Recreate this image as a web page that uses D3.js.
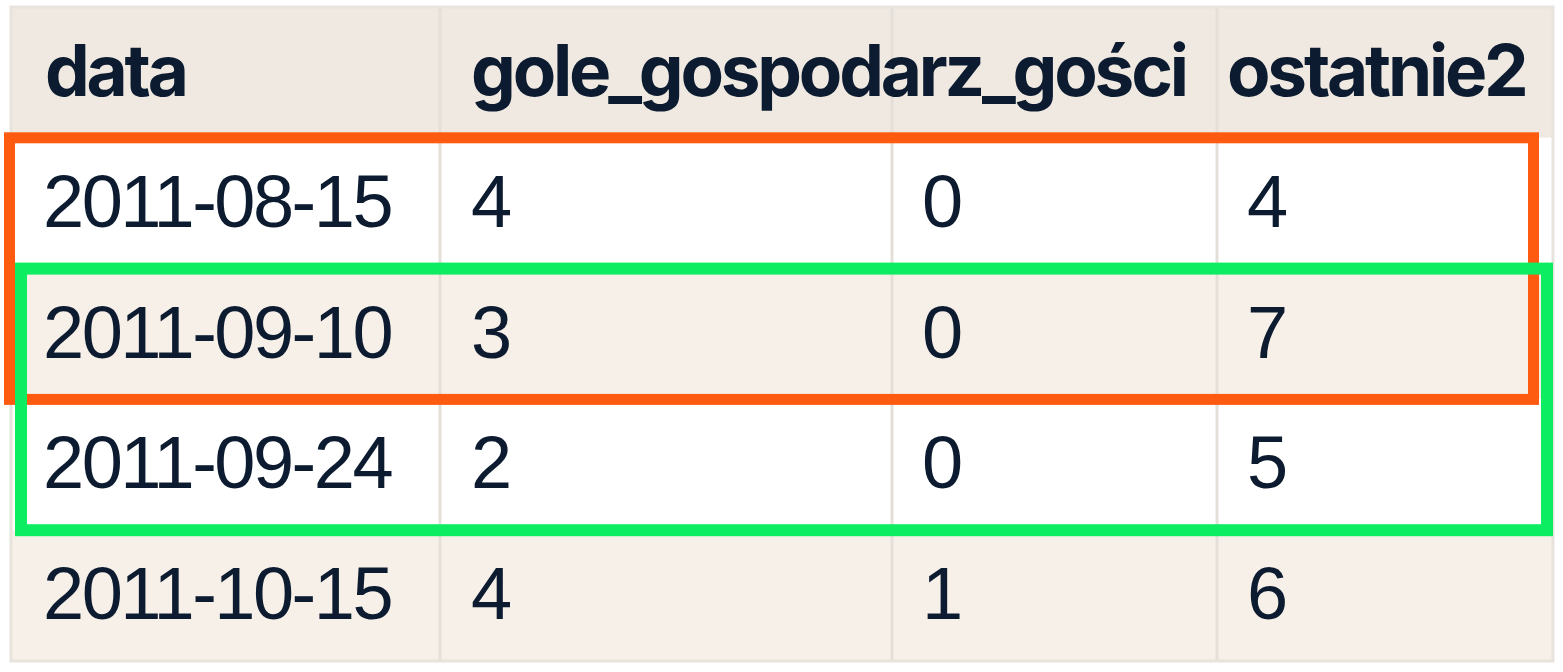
<!DOCTYPE html>
<html>
<head>
<meta charset="utf-8">
<script src="https://cdn.jsdelivr.net/npm/d3@7"></script>
<style>
  html, body { margin: 0; padding: 0; background: #ffffff; }
  svg { display: block; }
</style>
</head>
<body>
<div id="table"></div>
<script>
// table content
var headers = ["data", "gole_gospodarz_gości", "", "ostatnie2"];
var dates = ["2011-08-15", "2011-09-10", "2011-09-24", "2011-10-15"];
var homeGoals = [4, 3, 2, 4];
var awayGoals = [0, 0, 0, 1];
var lastTwo = [4, 7, 5, 6];
// highlighted windows (row indices, inclusive)
var windowStart = [0, 1];
var windowEnd = [1, 2];
var windowColors = ["#fe5a10", "#0ded62"];

var width = 1563, height = 672;
var colEdges = [11, 440, 892, 1217, 1553];
var headPad = [34, 31, 30, 10];
var textPad = [32, 31, 30, 30];
var ink = "#0c1b2f";

var rows = dates.map(function (d, i) {
    return [d, homeGoals[i], awayGoals[i], lastTwo[i]];
});

var svg = d3.select("#table").append("svg")
    .attr("width", width)
    .attr("height", height);

var y = d3.scaleBand()
    .domain(d3.range(rows.length + 1))
    .range([7, 661]);

var x = d3.scaleOrdinal()
    .domain(d3.range(4))
    .range(colEdges.slice(0, 4));

// row backgrounds
svg.append("g").selectAll("rect")
    .data(d3.range(rows.length + 1))
    .enter().append("rect")
    .attr("x", colEdges[0])
    .attr("y", function (d) { return y(d); })
    .attr("width", colEdges[4] - colEdges[0])
    .attr("height", y.bandwidth())
    .attr("fill", function (d) {
        if (d === 0) return "#efe9e2";
        return d % 2 === 1 ? "#ffffff" : "#f6f0e8";
    });

// column separators
svg.append("g").selectAll("line")
    .data(colEdges.slice(1, 4))
    .enter().append("line")
    .attr("x1", function (d) { return d; })
    .attr("x2", function (d) { return d; })
    .attr("y1", y.range()[0])
    .attr("y2", y.range()[1])
    .style("stroke", "#e4dfd8")
    .style("stroke-width", 3);

// outer frame
svg.append("rect")
    .attr("x", colEdges[0])
    .attr("y", y.range()[0])
    .attr("width", colEdges[4] - colEdges[0])
    .attr("height", y.range()[1] - y.range()[0])
    .attr("fill", "none")
    .style("stroke", "#e8e3dc")
    .style("stroke-width", 3);

// header
svg.append("g").selectAll("text")
    .data(headers)
    .enter().append("text")
    .attr("x", function (d, j) { return x(j) + headPad[j]; })
    .attr("y", y(0) + 89)
    .attr("fill", ink)
    .style("font-family", "Inter, 'Noto Sans', sans-serif")
    .style("font-weight", 700)
    .style("font-size", "71px")
    .style("letter-spacing", "-3.2px")
    .text(function (d) { return d; });

// body cells
var rowG = svg.append("g").selectAll("g")
    .data(rows)
    .enter().append("g")
    .attr("transform", function (d, i) { return "translate(0," + y(i + 1) + ")"; });

rowG.selectAll("text")
    .data(function (d) { return d; })
    .enter().append("text")
    .attr("x", function (d, j) { return x(j) + textPad[j]; })
    .attr("y", 89)
    .attr("fill", ink)
    .style("font-family", "'Liberation Sans', Arial, sans-serif")
    .style("font-size", "74px")
    .style("letter-spacing", "-2.5px")
    .text(function (d) { return d; });

// highlight windows
var insetL = [9.5, 21], insetR = [19.5, 6];
svg.append("g").selectAll("rect")
    .data(windowStart)
    .enter().append("rect")
    .attr("x", function (d, i) { return colEdges[0] - 11 + insetL[i]; })
    .attr("y", function (d) { return y(d + 1); })
    .attr("width", function (d, i) { return colEdges[4] - colEdges[0] + 11 - insetL[i] - insetR[i]; })
    .attr("height", function (d, i) { return y(windowEnd[i] + 1) + y.bandwidth() - y(d + 1); })
    .attr("fill", "none")
    .style("stroke", function (d, i) { return windowColors[i]; })
    .style("stroke-width", function (d, i) { return i === 0 ? 11 : 12; });
</script>
</body>
</html>
